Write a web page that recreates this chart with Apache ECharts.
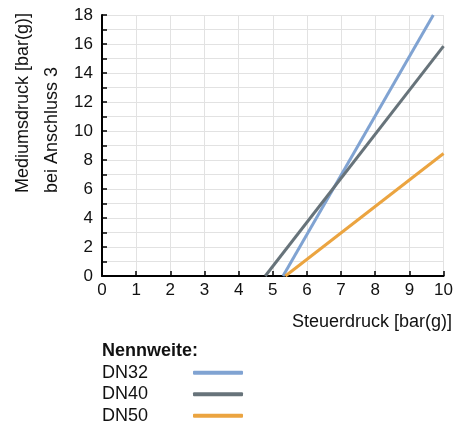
<!DOCTYPE html>
<html>
<head>
<meta charset="utf-8">
<script src="https://cdn.jsdelivr.net/npm/echarts@6/dist/echarts.min.js"></script>
<style>
  html, body { margin: 0; padding: 0; background: #fff; }
  #chart { width: 456px; height: 428px; }
</style>
</head>
<body>
<div id="chart"></div>
<script>
// Kennlinien: Mediumsdruck über Steuerdruck

var seriesNames = ['DN32', 'DN40', 'DN50'];
var seriesColors = ['#80a3d2', '#67737a', '#eba440'];

// Steuerdruck [bar(g)] / Mediumsdruck [bar(g)], Anfangs- und Endpunkt je Kennlinie
var dn32X = [5.3, 9.7];
var dn32Y = [0, 18];
var dn40X = [4.78, 10];
var dn40Y = [0, 15.85];
var dn50X = [5.37, 10];
var dn50Y = [0, 8.45];

function toPairs(xs, ys) {
    var out = [];
    for (var i = 0; i < xs.length; i++) {
        out.push([xs[i], ys[i]]);
    }
    return out;
}

var fontFam = '"Liberation Sans", Arial, Helvetica, sans-serif';

var myChart = echarts.init(document.getElementById('chart'));

var option = {
    animation: false,
    textStyle: { fontFamily: fontFam },
    grid: {
        left: 102,
        right: 9,
        top: 15,
        bottom: 152
    },
    xAxis: {
        type: 'value',
        min: 0,
        max: 10,
        interval: 1,
        axisLine: { lineStyle: { color: '#000', width: 2 } },
        axisTick: { show: true, inside: true, length: 5, lineStyle: { color: '#000', width: 1.5 } },
        axisLabel: { color: '#111', fontSize: 17, margin: 6, fontFamily: fontFam },
        splitLine: { show: true, lineStyle: { color: '#e2e2e2', width: 1 } }
    },
    yAxis: {
        type: 'value',
        min: 0,
        max: 18,
        interval: 1,
        axisLine: { show: true, lineStyle: { color: '#000', width: 2 } },
        axisTick: { show: true, inside: true, length: 5, lineStyle: { color: '#000', width: 1.5 } },
        axisLabel: {
            color: '#111',
            fontSize: 17,
            margin: 9,
            fontFamily: fontFam,
            formatter: function (v) { return v % 2 === 0 ? String(v) : ''; }
        },
        splitLine: { show: true, lineStyle: { color: '#e2e2e2', width: 1 } }
    },
    legend: {
        orient: 'vertical',
        left: 102,
        top: 362,
        height: 80,
        padding: 0,
        align: 'right',
        itemGap: 0,
        itemWidth: 50,
        itemHeight: 4,
        icon: 'roundRect',
        selectedMode: false,
        data: seriesNames,
        textStyle: {
            color: '#111',
            fontSize: 18,
            fontFamily: fontFam,
            lineHeight: 21.5,
            padding: [0, 40, 0, 0]
        }
    },
    graphic: [
        {
            type: 'text',
            x: 23,
            y: 193,
            rotation: Math.PI / 2,
            style: {
                text: 'Mediumsdruck [bar(g)]',
                font: '18px ' + fontFam,
                fill: '#111',
                align: 'left',
                verticalAlign: 'middle'
            }
        },
        {
            type: 'text',
            x: 52,
            y: 193,
            rotation: Math.PI / 2,
            style: {
                text: 'bei Anschluss 3',
                font: '18px ' + fontFam,
                fill: '#111',
                align: 'left',
                verticalAlign: 'middle'
            }
        },
        {
            type: 'text',
            x: 452,
            y: 322,
            style: {
                text: 'Steuerdruck [bar(g)]',
                font: '18px ' + fontFam,
                fill: '#111',
                align: 'right',
                verticalAlign: 'middle'
            }
        },
        {
            type: 'text',
            x: 102,
            y: 351,
            style: {
                text: 'Nennweite:',
                font: 'bold 18px ' + fontFam,
                fill: '#111',
                align: 'left',
                verticalAlign: 'middle'
            }
        }
    ],
    series: [
        {
            name: seriesNames[0],
            type: 'line',
            data: toPairs(dn32X, dn32Y),
            showSymbol: false,
            symbol: 'none',
            itemStyle: { color: seriesColors[0] },
            lineStyle: { color: seriesColors[0], width: 3 }
        },
        {
            name: seriesNames[1],
            type: 'line',
            data: toPairs(dn40X, dn40Y),
            showSymbol: false,
            symbol: 'none',
            itemStyle: { color: seriesColors[1] },
            lineStyle: { color: seriesColors[1], width: 3 }
        },
        {
            name: seriesNames[2],
            type: 'line',
            data: toPairs(dn50X, dn50Y),
            showSymbol: false,
            symbol: 'none',
            itemStyle: { color: seriesColors[2] },
            lineStyle: { color: seriesColors[2], width: 3 }
        }
    ]
};

myChart.setOption(option);
</script>
</body>
</html>
